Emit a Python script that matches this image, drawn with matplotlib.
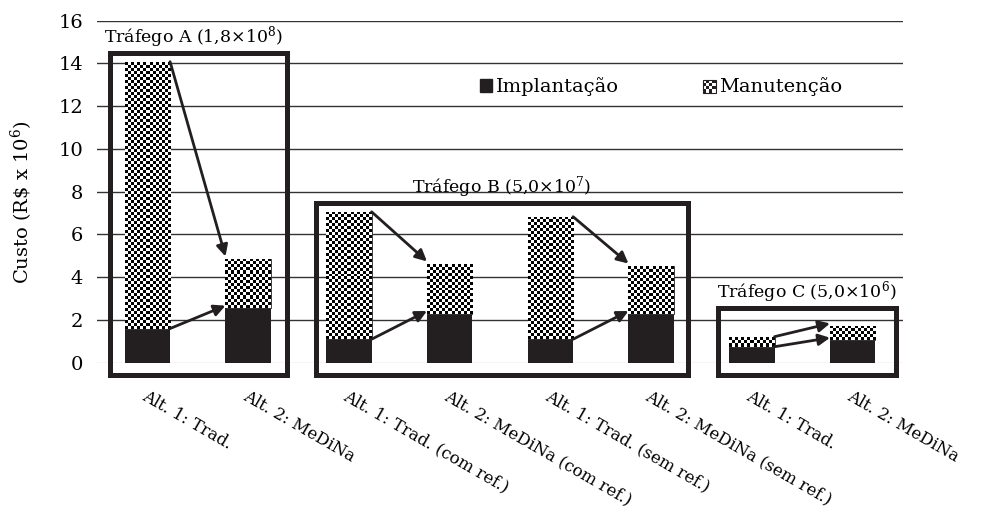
import numpy as np
import matplotlib
matplotlib.use('Agg')
import matplotlib.pyplot as plt
from matplotlib.patches import Rectangle
from matplotlib.legend_handler import HandlerBase

plt.rcParams['font.family'] = ['DejaVu Serif']
plt.rcParams['mathtext.fontset'] = 'dejavuserif'

categorias = ['Alt. 1: Trad.', 'Alt. 2: MeDiNa',
              'Alt. 1: Trad. (com ref.)', 'Alt. 2: MeDiNa (com ref.)',
              'Alt. 1: Trad. (sem ref.)', 'Alt. 2: MeDiNa (sem ref.)',
              'Alt. 1: Trad.', 'Alt. 2: MeDiNa']
implantacao = [1.6, 2.55, 1.1, 2.3, 1.1, 2.3, 0.75, 1.05]
total = [14.08, 4.85, 7.06, 4.62, 6.83, 4.52, 1.22, 1.72]
manutencao = [t - i for t, i in zip(total, implantacao)]
grupos = [r'Tráfego A (1,8×10$^8$)', r'Tráfego B (5,0×10$^7$)', r'Tráfego C (5,0×10$^6$)']
pares = [(0, 1), (2, 3), (4, 5), (6, 7)]

escuro = '#231f20'
w = 0.45
x = np.arange(len(categorias))

fig, ax = plt.subplots(figsize=(9.82, 5.16), dpi=100)
fig.subplots_adjust(left=0.0988, right=0.9196, bottom=0.297, top=0.96)

ax.set_ylim(0, 16)
ax.set_xlim(-0.5, 7.5)
ax.set_yticks(np.arange(0, 17, 2))
ax.grid(axis='y', color='#333333', lw=1.0)
ax.get_ygridlines()[0].set_color('#d0d0d0')
ax.set_axisbelow(True)
for s in ax.spines.values():
    s.set_visible(False)

b1 = ax.bar(x, implantacao, w, color=escuro, zorder=3)
b2 = ax.bar(x, manutencao, w, bottom=implantacao, color='white',
            edgecolor=escuro, lw=0.6, zorder=3)

# checkerboard fill for manutencao
cell = 0.14
for p in b2:
    x0, y0, pw, ph = p.get_x(), p.get_y(), p.get_width(), p.get_height()
    nr = max(1, int(round(ph / cell)))
    nc = 15
    chk = (np.add.outer(np.arange(nr), np.arange(nc)) % 2).astype(float)
    im = ax.imshow(chk, extent=(x0, x0 + pw, y0, y0 + ph), cmap='gray',
                   interpolation='nearest', aspect='auto', zorder=3.5,
                   vmin=0, vmax=1)
    im.set_clip_path(p)
ax.set_xlim(-0.5, 7.5)
ax.set_ylim(0, 16)

# arrows
ap = dict(arrowstyle='-|>', color=escuro, lw=2, mutation_scale=17,
          shrinkA=0, shrinkB=0)
for a, b in pares:
    for vals in (total, implantacao):
        ax.annotate('', xy=(x[b] - w / 2, vals[b] + 0.12), xytext=(x[a] + w / 2, vals[a]),
                    arrowprops=ap, zorder=5)

# group boxes
caixas = [(-0.37, 1.39, 14.49), (1.67, 5.37, 7.47), (5.66, 7.43, 2.56)]
for (l, r, t), g in zip(caixas, grupos):
    ax.add_patch(Rectangle((l, -0.58), r - l, t + 0.58, fill=False, lw=3.6,
                           edgecolor=escuro, clip_on=False, zorder=6))
    xc = (l + r) / 2 - 0.05 if g.startswith('Tráfego A') else (l + r) / 2
    ax.text(xc, t + 0.75, g, ha='center', va='center', fontsize=12.5)

ax.set_xticks(x)
ax.set_xticklabels(categorias, rotation=-30, ha='left', va='top',
                   rotation_mode='anchor', fontsize=12)
ax.tick_params(axis='x', length=0, pad=18)
ax.tick_params(axis='y', length=0, pad=10, labelsize=14)
ax.set_ylabel(r'Custo (R\$ x 10$^6$)', fontsize=14)
ax.yaxis.set_label_coords(-0.077, 0.47)


class Xadrez(HandlerBase):
    def create_artists(self, legend, orig, xd, yd, width, height, fontsize, trans):
        s = min(width, height)
        x0 = xd + (width - s) / 2
        y0 = yd + (height - s) / 2
        arts = [Rectangle((x0, y0), s, s, facecolor='white', edgecolor=escuro,
                          lw=0.8, transform=trans)]
        n = 4
        c = s / n
        for i in range(n):
            for j in range(n):
                if (i + j) % 2 == 0:
                    arts.append(Rectangle((x0 + i * c, y0 + j * c), c, c,
                                          facecolor=escuro, lw=0, transform=trans))
        return arts


h1 = Rectangle((0, 0), 1, 1, color=escuro)
h2 = Rectangle((0, 0), 1, 1, color='white')
ax.legend([h1, h2], ['Implantação', 'Manutenção'], ncol=2, frameon=False,
          loc='center', bbox_to_anchor=(0.70, 0.806), fontsize=14,
          handlelength=0.65, handleheight=0.65, handletextpad=0.2,
          columnspacing=4.3, handler_map={h2: Xadrez()})

plt.savefig('out.png', dpi=100)
